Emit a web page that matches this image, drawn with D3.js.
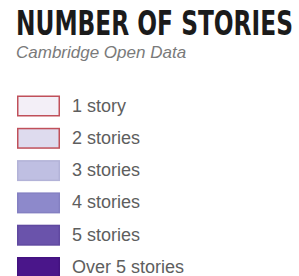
<!DOCTYPE html>
<html>
<head>
<meta charset="utf-8">
<script src="https://cdn.jsdelivr.net/npm/d3@7"></script>
<style>
  html, body { margin: 0; padding: 0; background: #fff; }
  svg { display: block; }
</style>
</head>
<body>
<svg id="legend" width="299" height="276"></svg>
<script>
let categories = ["1 story", "2 stories", "3 stories", "4 stories", "5 stories", "Over 5 stories"]
let fills = ["#f3eff7", "#dedbee", "#bfbfe2", "#8d89cb", "#6a53ab", "#4a168a"]
let strokes = ["#c0505a", "#c0505a", "#b3b3d8", "#8480c2", "#6049a0", "#431280"]
let title = "NUMBER OF STORIES"
let subtitle = "Cambridge Open Data"

let svg = d3.select("#legend")
let x = 17
let boxW = 43
let boxH = 21

let y = d3.scalePoint()
  .domain(categories)
  .range([95.5, 257])

// title is a condensed bold face, squeezed to the width seen in the picture
let titleText = svg.append("text")
  .text(title)
  .style("font-family", "'Liberation Sans Narrow', 'DejaVu Sans Condensed', sans-serif")
  .style("font-weight", "bold")
  .style("font-size", "33px")
  .style("fill", "#1b1b1b")
let natural = titleText.node().getComputedTextLength()
titleText.attr("transform", "translate(16,35) scale(" + (277 / natural) + ",1)")

svg.append("text")
  .attr("x", 16)
  .attr("y", 58)
  .text(subtitle)
  .style("font-family", "'Liberation Sans', Arial, sans-serif")
  .style("font-style", "italic")
  .style("font-size", "17px")
  .style("fill", "#7a7a7a")

let rows = svg.selectAll("g.row")
  .data(categories)
  .join("g")
  .attr("class", "row")

rows.append("rect")
  .attr("x", x + 0.75)
  .attr("y", d => y(d) + 0.75)
  .attr("width", boxW - 1.5)
  .attr("height", boxH - 1.5)
  .style("fill", (d, i) => fills[i])
  .style("stroke", (d, i) => strokes[i])
  .style("stroke-width", 1.5)

rows.append("text")
  .attr("x", 72)
  .attr("y", d => y(d) + boxH / 2 + 5.5)
  .text(d => d)
  .style("font-family", "'Liberation Sans', Arial, sans-serif")
  .style("font-size", "18px")
  .style("fill", "#5e5e5e")
</script>
</body>
</html>
